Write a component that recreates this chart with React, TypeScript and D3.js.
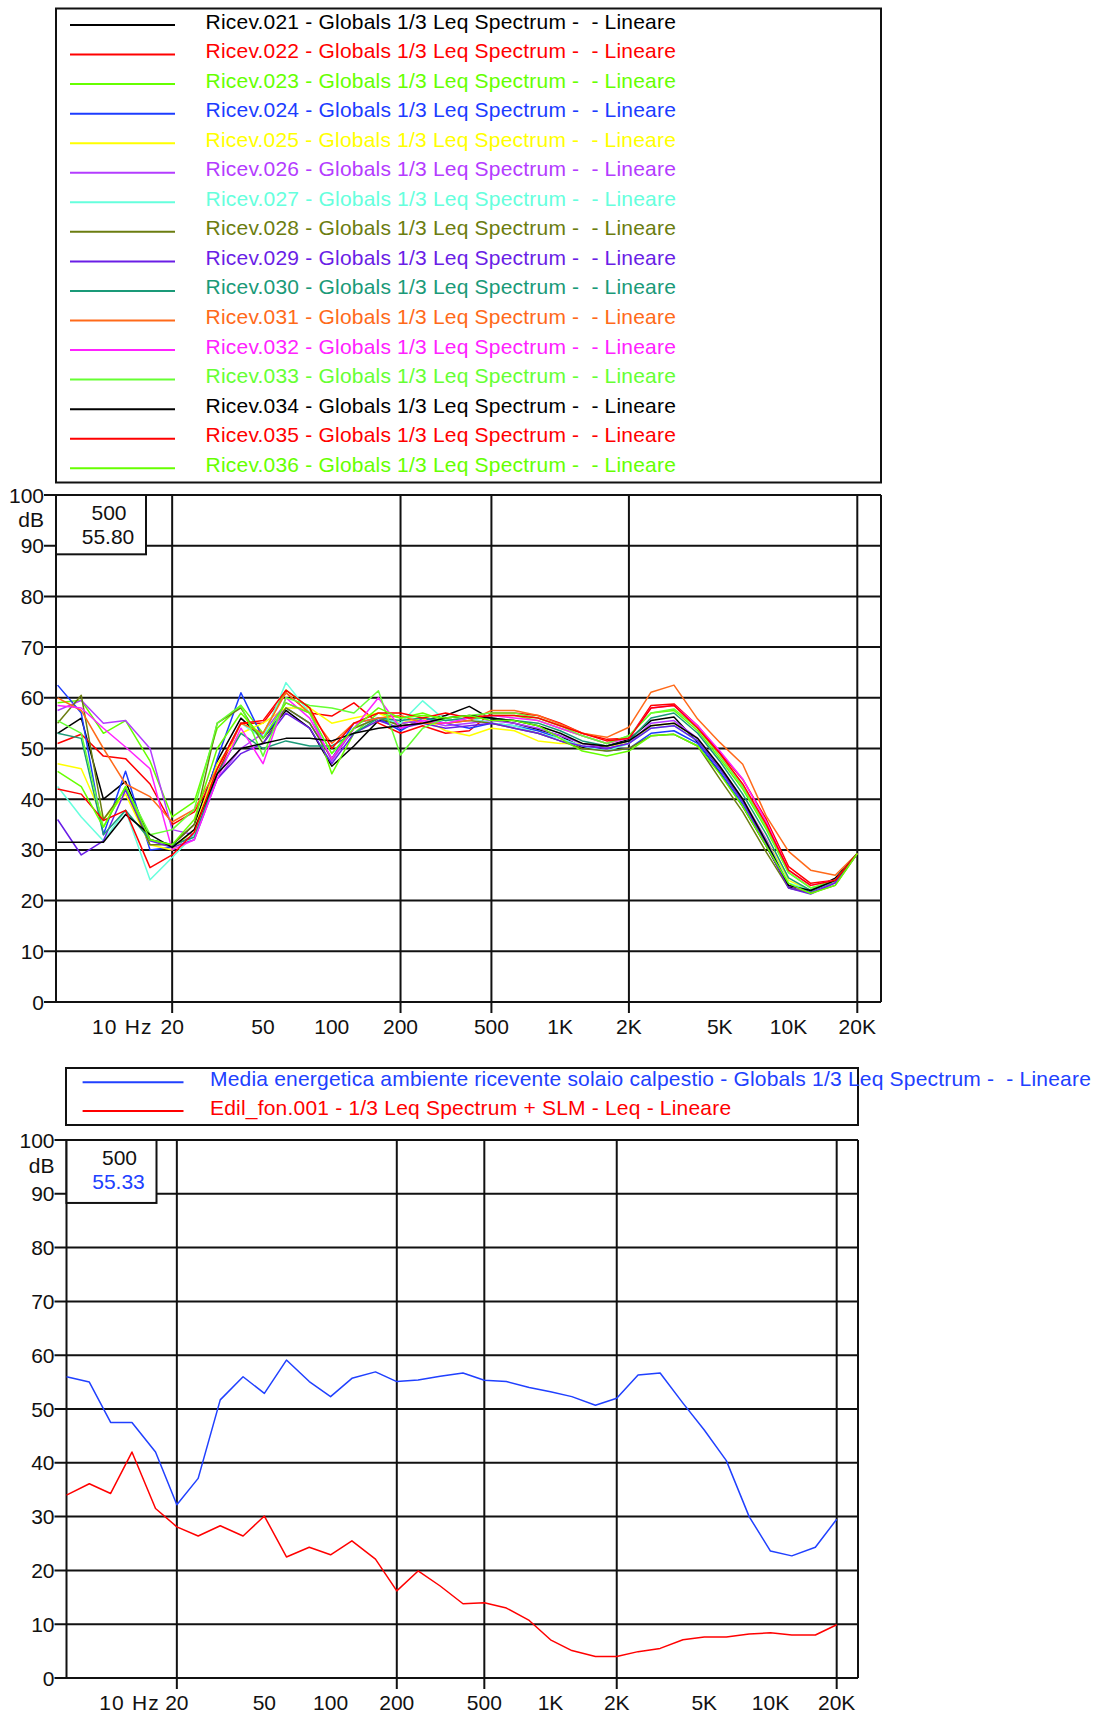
import React from "react";
import * as d3 from "d3";

// 1/3 octave band centre frequencies (Hz)
const bands = [
  6.3, 8, 10, 12.5, 16, 20, 25, 31.5, 40, 50, 63, 80, 100, 125, 160, 200, 250, 315, 400, 500,
  630, 800, 1000, 1250, 1600, 2000, 2500, 3150, 4000, 5000, 6300, 8000, 10000, 12500, 16000, 20000,
];

// Leq spectra of the receiver measurements (dB)
const ricev021 = [53, 56, 40, 43.5, 32, 31, 35, 47.5, 56, 52, 57.5, 54, 46.5, 50.5, 55.5, 55, 55.5, 56.5, 58.3, 55.8, 55, 53.8, 52.5, 50.2, 50.5, 51.8, 55.5, 56.2, 51.2, 45.2, 38.6, 30.7, 22.7, 22, 24.4, 29.3];
const ricev022 = [51, 52.8, 48.5, 48, 43, 35, 37.5, 45, 55, 55, 61, 57, 56.4, 59, 55, 53, 54.5, 53, 53.5, 57, 57, 56.5, 55, 53, 51.8, 52, 58.5, 58.8, 54.5, 49.2, 43.9, 36, 26.7, 23.4, 24, 29.3];
const ricev023 = [59, 59.5, 53, 55.5, 47.5, 36.5, 39.5, 54, 58.5, 53, 61.5, 58, 45, 53, 57, 56, 57, 55.5, 56, 56.5, 56.5, 55.5, 54, 52.5, 51, 52.5, 57, 57.5, 53.5, 48, 42, 34, 25.5, 22.5, 23.5, 29.3];
const ricev024 = [62.5, 57, 33, 45.5, 30, 30.5, 33, 48, 61, 52, 58, 55, 48, 55, 56, 53.5, 56, 55, 54, 55, 54.5, 53.5, 52, 50.5, 49.5, 50, 53, 53.5, 51, 45.5, 39, 31, 23, 21.8, 23.5, 29.3];
const ricev025 = [47, 46, 36, 41, 31, 30, 34, 47, 53, 55, 58, 58, 55, 56, 57, 55, 56, 53.5, 52.5, 54, 53.5, 51.5, 51, 51, 50.5, 51, 54.5, 55, 52, 46.5, 40, 32, 24, 22, 24, 29.3];
const ricev026 = [57.5, 59.5, 55, 55.5, 50, 34, 33, 44, 50, 53, 59, 57, 47.5, 54, 56, 55, 55.5, 54.5, 55, 55.5, 55, 54, 52.5, 51, 50, 51, 55, 55.5, 52, 46.5, 40, 32, 23, 21.5, 23.5, 29.3];
const ricev027 = [42.5, 36.5, 31.8, 37.8, 24.1, 28.5, 33, 46, 55, 52, 63, 57, 49, 54, 56, 55, 59.4, 55.5, 56, 55, 54.5, 53, 52, 50.5, 49.5, 51, 54, 54.5, 51.5, 46, 39.5, 31.5, 23.5, 22, 24, 29.3];
const ricev028 = [55, 60.5, 36, 42, 31, 31, 35, 55, 58, 51, 58, 55, 48, 54, 56, 54.5, 55, 55, 55.5, 55, 54, 53, 51.5, 50, 49.5, 50, 52.5, 52.8, 50.5, 44, 37.5, 29.5, 22.5, 21.5, 23, 29.3];
const ricev029 = [36, 29, 31.8, 41.8, 31.8, 30.5, 32, 44, 49, 51, 57, 54, 47, 53, 55.5, 54, 55, 54, 54.5, 55, 54, 53, 51.5, 50.5, 50, 51, 54, 54.5, 51.5, 46, 39.5, 31, 22.5, 21.3, 23.5, 29.3];
const ricev030 = [53, 52, 33, 37.8, 32, 31, 32.5, 45, 53, 50, 51.5, 50.5, 50.5, 53, 56, 55.5, 56, 55.5, 56, 56, 55.5, 55, 53.5, 51.5, 50.5, 51.5, 56, 57, 53, 47.5, 41, 33, 24.5, 22, 24, 29.3];
const ricev031 = [60, 57.5, 50, 43, 40.5, 35.5, 38, 46, 55, 53, 61, 57, 51, 55, 56, 56.5, 55, 55, 55.5, 57.5, 57.5, 56.5, 54.8, 53, 52.2, 54.2, 61.1, 62.5, 55.8, 51.2, 46.9, 36.6, 29.7, 26, 25, 29.3];
const ricev032 = [58.5, 58, 54, 50.3, 46, 30, 32, 44, 54, 47, 60, 56, 48, 54, 60, 54, 55.5, 55, 56, 56.5, 56, 55.5, 54, 52.5, 51, 52, 58, 58.5, 54.5, 49.5, 44, 35.5, 26, 23, 24, 29.3];
const ricev033 = [55.5, 53, 34.5, 42.5, 33, 34, 38, 55, 58.5, 48.5, 60, 58.5, 58, 57, 61.4, 48.7, 54, 56, 56.5, 57, 57, 56, 54.5, 52.5, 51, 52.5, 57, 57.8, 54, 48.5, 42.5, 34.5, 25.5, 22.5, 24, 29.3];
const ricev034 = [31.5, 31.5, 31.5, 37, 33, 30.5, 34, 45, 50, 51, 52, 52, 51.5, 53, 54, 54.5, 55, 56, 56.5, 56, 55.5, 54.5, 53, 51, 50.5, 51.5, 54.5, 55, 52, 46.5, 40, 31.5, 23, 22, 24, 29.3];
const ricev035 = [42, 41, 35.8, 37.8, 26.5, 29, 33.5, 46, 55, 55.5, 61.5, 58, 50, 55, 57, 57, 56, 57, 56, 56.5, 56.5, 56, 54.5, 53, 51.5, 52, 58, 58.5, 54, 49, 43, 35, 26, 23, 24, 29.3];
const ricev036 = [45.5, 42.5, 34.5, 42.5, 32, 31, 36, 50, 57, 52, 59, 57, 49, 54, 58, 56, 56.5, 56, 56.5, 55.5, 55.5, 54.5, 52, 49.5, 48.5, 49.5, 52.5, 52.8, 50.5, 45, 38.6, 30.7, 23.4, 21.4, 23, 29.3];

// Energy average of the receiving room and background noise (dB)
const mediaEnergetica = [56, 55, 47.5, 47.5, 42, 32.2, 37.1, 51.7, 56, 52.9, 59.1, 55.1, 52.3, 55.7, 56.9, 55.1, 55.4, 56.1, 56.7, 55.33, 55.1, 54, 53.2, 52.3, 50.7, 52, 56.3, 56.7, 51.1, 46.1, 40.4, 30, 23.6, 22.7, 24.3, 29.5];
const edilFon = [34, 36.1, 34.3, 42, 31.5, 28.1, 26.4, 28.3, 26.4, 30.1, 22.5, 24.3, 22.9, 25.5, 22.1, 16.2, 19.9, 17.1, 13.8, 14, 13, 10.7, 7.1, 5.1, 4, 4, 4.9, 5.5, 7.1, 7.6, 7.6, 8.2, 8.4, 8, 8, 9.9];

const ricevNames = ["Ricev.021", "Ricev.022", "Ricev.023", "Ricev.024", "Ricev.025", "Ricev.026", "Ricev.027", "Ricev.028", "Ricev.029", "Ricev.030", "Ricev.031", "Ricev.032", "Ricev.033", "Ricev.034", "Ricev.035", "Ricev.036"];
const ricevColors = ["#000000", "#ff0000", "#66ff00", "#1c3cff", "#ffff00", "#b43cff", "#66ffdd", "#6b7d10", "#6a1ee6", "#1a9a78", "#ff6a1a", "#ff22ff", "#66ff33", "#000000", "#ff0000", "#66ff00"];
const ricevValues = [ricev021, ricev022, ricev023, ricev024, ricev025, ricev026, ricev027, ricev028, ricev029, ricev030, ricev031, ricev032, ricev033, ricev034, ricev035, ricev036];

const yTicks = [0, 10, 20, 30, 40, 50, 60, 70, 80, 90, 100];
const xGridFreqs = [20, 200, 500, 2000, 20000];
const xTickFreqs = [10, 20, 50, 100, 200, 500, 1000, 2000, 5000, 10000, 20000];
const xTickLabels = ["10 Hz", "20", "50", "100", "200", "500", "1K", "2K", "5K", "10K", "20K"];

type Series = { label: string; color: string; values: number[] };

const topSeries: Series[] = ricevNames.map((n, i) => ({
  label: `${n} - Globals 1/3 Leq Spectrum -  - Lineare`,
  color: ricevColors[i],
  values: ricevValues[i],
}));

const bottomSeries: Series[] = [
  {
    label: "Media energetica ambiente ricevente solaio calpestio - Globals 1/3 Leq Spectrum -  - Lineare",
    color: "#2040ff",
    values: mediaEnergetica,
  },
  {
    label: "Edil_fon.001 - 1/3 Leq Spectrum + SLM - Leq - Lineare",
    color: "#ff0000",
    values: edilFon,
  },
];

const FONT = "'Liberation Sans', Arial, Helvetica, sans-serif";
const FS = 21;
const GRID = "#111";

type Frame = { left: number; right: number; top: number; bottom: number; fMin: number; fMax: number };

function Legend({ series, x, y, w, h, lineX0, lineX1, textX, firstY, step }: {
  series: Series[]; x: number; y: number; w: number; h: number;
  lineX0: number; lineX1: number; textX: number; firstY: number; step: number;
}) {
  return (
    <g>
      <rect x={x} y={y} width={w} height={h} fill="#fff" stroke={GRID} strokeWidth={2} />
      {series.map((s, i) => {
        const ly = firstY + i * step;
        return (
          <g key={i}>
            <line x1={lineX0} x2={lineX1} y1={ly} y2={ly} stroke={s.color} strokeWidth={2} />
            <text
              x={textX}
              y={ly + 3.5}
              fill={s.color}
              fontSize={FS}
              fontFamily={FONT}
              letterSpacing={0.2}
              style={{ whiteSpace: "pre" }}
            >
              {s.label}
            </text>
          </g>
        );
      })}
    </g>
  );
}

function SpectrumChart({ frame, series, cursorFreq, cursorValue, cursorColor }: {
  frame: Frame; series: Series[]; cursorFreq: string; cursorValue: string; cursorColor: string;
}) {
  const x = d3.scaleLog().domain([frame.fMin, frame.fMax]).range([frame.left, frame.right]);
  const y = d3.scaleLinear().domain([0, 100]).range([frame.bottom, frame.top]);
  const line = d3
    .line<number>()
    .x((_, i) => x(bands[i]))
    .y((v) => y(v));
  const boxW = 90;
  const boxH = y(100 - 11.7) - y(100);
  return (
    <g>
      {/* horizontal grid and y ticks */}
      {yTicks.map((t) => (
        <g key={t}>
          <line x1={frame.left - 12} x2={frame.right} y1={y(t)} y2={y(t)} stroke={GRID} strokeWidth={2} />
          <text x={frame.left - 12} y={y(t)} dy="0.36em" textAnchor="end" fontSize={FS} fontFamily={FONT} fill="#111">
            {t}
          </text>
        </g>
      ))}
      <text x={frame.left - 12} y={y(95.2)} dy="0.36em" textAnchor="end" fontSize={FS} fontFamily={FONT} fill="#111">
        dB
      </text>
      {/* frame */}
      <line x1={frame.left} x2={frame.left} y1={frame.top} y2={frame.bottom} stroke={GRID} strokeWidth={2} />
      <line x1={frame.right} x2={frame.right} y1={frame.top} y2={frame.bottom} stroke={GRID} strokeWidth={2} />
      {/* vertical grid */}
      {xGridFreqs.map((f) => (
        <line key={f} x1={x(f)} x2={x(f)} y1={frame.top} y2={frame.bottom + 11} stroke={GRID} strokeWidth={2} />
      ))}
      {xTickFreqs.map((f, i) => {
        const lbl = xTickLabels[i];
        const isHz = lbl.includes("Hz");
        return (
          <text
            key={f}
            x={isHz ? x(f) - 11.5 : x(f)}
            y={frame.bottom + 32}
            textAnchor={isHz ? "start" : "middle"}
            fontSize={FS}
            fontFamily={FONT}
            letterSpacing={isHz ? 1.2 : 0}
            fill="#111"
            style={{ whiteSpace: "pre" }}
          >
            {lbl}
          </text>
        );
      })}
      {/* spectra */}
      {series.map((s, i) => (
        <path key={i} d={line(s.values) || ""} fill="none" stroke={s.color} strokeWidth={1.5} strokeLinejoin="round" />
      ))}
      {/* cursor readout */}
      <rect x={frame.left} y={frame.top} width={boxW} height={boxH} fill="#fff" stroke={GRID} strokeWidth={2} />
      <text x={frame.left + 53} y={frame.top + 17} dy="0.36em" textAnchor="middle" fontSize={FS} fontFamily={FONT} fill="#111">
        {cursorFreq}
      </text>
      <text x={frame.left + 52} y={frame.top + 41} dy="0.36em" textAnchor="middle" fontSize={FS} fontFamily={FONT} fill={cursorColor}>
        {cursorValue}
      </text>
    </g>
  );
}

export default function App() {
  const topFrame: Frame = { left: 56, right: 881, top: 495, bottom: 1002, fMin: 6.2, fMax: 25400 };
  const bottomFrame: Frame = { left: 66.5, right: 858, top: 1140, bottom: 1678, fMin: 6.3, fMax: 25000 };
  return (
    <svg
      width={1098}
      height={1715}
      viewBox="0 0 1098 1715"
      style={{ position: "absolute", left: 0, top: 0, display: "block", background: "#fff" }}
    >
      <rect width={1098} height={1715} fill="#fff" />
      <Legend series={topSeries} x={56} y={8.5} w={825} h={474} lineX0={70} lineX1={175} textX={205.6} firstY={25} step={29.55} />
      <SpectrumChart frame={topFrame} series={topSeries} cursorFreq="500" cursorValue="55.80" cursorColor="#111" />
      <Legend series={bottomSeries} x={66} y={1068} w={792} h={57} lineX0={82.6} lineX1={183.5} textX={210} firstY={1082.3} step={28.7} />
      <SpectrumChart frame={bottomFrame} series={bottomSeries} cursorFreq="500" cursorValue="55.33" cursorColor="#2040ff" />
    </svg>
  );
}
